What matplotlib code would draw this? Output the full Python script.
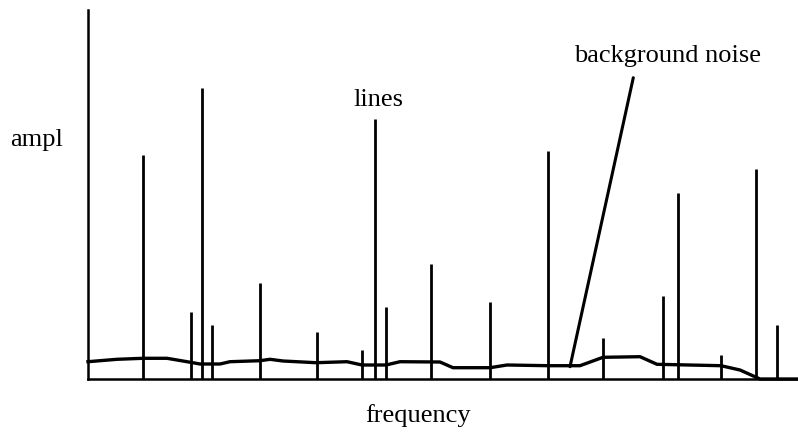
import matplotlib
matplotlib.use("Agg")
import matplotlib.pyplot as plt

# Spectral lines: frequency positions and amplitudes (arbitrary units)
line_freq = [55, 103, 114, 124, 172, 229, 274, 287, 298, 343, 402, 460,
             515, 575, 590, 633, 668, 689]
line_ampl = [224, 67, 291, 54, 96, 47, 29, 260, 72, 115, 77, 228,
             41, 83, 186, 24, 210, 54]

# Background noise floor
noise_freq = [0, 29, 55, 79, 99, 112, 132, 142, 172, 182, 195, 228, 259, 274,
              298, 312, 352, 365, 402, 419, 460, 492, 515, 552, 569, 633,
              652, 672, 710]
noise_ampl = [17.3, 19.7, 20.7, 20.7, 17.3, 15, 15, 17.3, 18.3, 19.7, 18,
              16.3, 17.3, 14, 14, 17.3, 17, 11.3, 11.3, 14, 13.3, 13.3,
              21.7, 22.3, 14.7, 13.3, 9, 0, 0]

W, H = 798, 434
fig = plt.figure(figsize=(W / 100, H / 100), dpi=100)
ax = fig.add_axes([88 / W, (H - 379) / H, (W - 88) / W, (379 - 10) / H])

ax.vlines(line_freq, 0, line_ampl, colors="black", linewidth=2.0)
ax.plot(noise_freq, noise_ampl, color="black", linewidth=2.4,
        solid_joinstyle="round", clip_on=False)

ax.set_xlim(0, 710)
ax.set_ylim(0, 369)
for side in ("top", "right"):
    ax.spines[side].set_visible(False)
for side in ("left", "bottom"):
    ax.spines[side].set_linewidth(1.8)
ax.set_xticks([])
ax.set_yticks([])

serif = ["Liberation Serif", "DejaVu Serif"]
fs = 19

# Leader from the label down to the noise floor
ax.annotate("", xy=(482, 12.3), xytext=(545.3, 301.3),
            arrowprops=dict(arrowstyle="-", color="black", lw=2.2,
                            shrinkA=0, shrinkB=0))

fig.text(10 / W, (H - 146) / H, "ampl", family=serif, fontsize=fs,
         ha="left", va="baseline")
fig.text(378 / W, (H - 106) / H, "lines", family=serif, fontsize=fs,
         ha="center", va="baseline")
fig.text(668 / W, (H - 62) / H, "background noise", family=serif,
         fontsize=fs, ha="center", va="baseline")
fig.text(418 / W, (H - 422) / H, "frequency", family=serif, fontsize=fs,
         ha="center", va="baseline")

fig.savefig("out.png", dpi=100)
